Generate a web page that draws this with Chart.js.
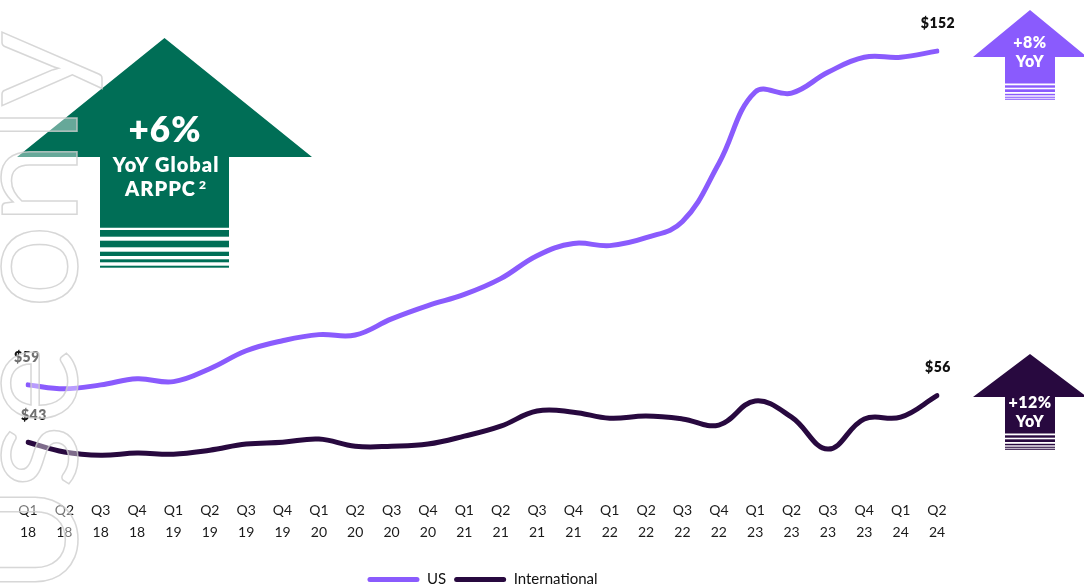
<!DOCTYPE html>
<html><head><meta charset="utf-8">
<script src="https://cdn.jsdelivr.net/npm/chart.js@4.4.1/dist/chart.umd.min.js"></script>
<style>html,body{margin:0;padding:0;background:#fff;overflow:hidden}#wrap{width:1084px;height:584px;position:relative}</style>
</head><body><div id="wrap"><canvas id="c" width="1084" height="584"></canvas></div>
<script>
const quarters = ['Q1','Q2','Q3','Q4','Q1','Q2','Q3','Q4','Q1','Q2','Q3','Q4','Q1','Q2','Q3','Q4','Q1','Q2','Q3','Q4','Q1','Q2','Q3','Q4','Q1','Q2'];
const years    = ['18','18','18','18','19','19','19','19','20','20','20','20','21','21','21','21','22','22','22','22','23','23','23','23','24','24'];
const usValues   = [59, 57.9, 59.0, 60.7, 59.9, 63.5, 68.5, 71.3, 73.0, 72.9, 77.4, 81.1, 84.2, 88.6, 95.0, 98.4, 97.8, 100.0, 104.5, 120.7, 140.6, 140.3, 146.1, 150.3, 150.3, 152];
const intlValues = [43, 40.3, 39.4, 40.0, 39.7, 40.8, 42.5, 43.0, 43.9, 41.9, 41.9, 42.5, 44.7, 47.5, 51.7, 51.4, 49.7, 50.3, 49.5, 47.8, 54.5, 50.0, 41.1, 49.5, 50.0, 56];
const seriesNames = ['US', 'International'];
const usYoY = ['+8%', 'YoY'];
const intlYoY = ['+12%', 'YoY'];
const globalYoY = ['+6%', 'YoY Global', 'ARPPC', '2'];
const watermarkText = 'Use only';

const US_COLOR = '#8a5bfd';
const INTL_COLOR = '#28093f';
const GREEN = '#006e56';
const FONT = 'Lato, "Open Sans", sans-serif';

const categories = quarters.map((q, i) => [q, years[i]]);

function drawArrow(ctx, a) {
  ctx.save();
  ctx.fillStyle = a.color;
  ctx.beginPath();
  ctx.moveTo(a.cx, a.tip);
  ctx.lineTo(a.cx + a.headHalf, a.headY);
  ctx.lineTo(a.cx + a.shaftHalf, a.headY);
  ctx.lineTo(a.cx + a.shaftHalf, a.solidBottom);
  ctx.lineTo(a.cx - a.shaftHalf, a.solidBottom);
  ctx.lineTo(a.cx - a.shaftHalf, a.headY);
  ctx.lineTo(a.cx - a.headHalf, a.headY);
  ctx.closePath();
  ctx.fill();
  a.stripes.forEach(s => ctx.fillRect(a.cx - a.shaftHalf, s[0], a.shaftHalf * 2, s[1] - s[0]));
  ctx.restore();
}

const decorPlugin = {
  id: 'decor',
  afterDatasetsDraw(chart) {
    const ctx = chart.ctx;
    drawArrow(ctx, {cx: 164.5, tip: 38, headY: 157, headHalf: 147.5, shaftHalf: 64.5, solidBottom: 227.7,
      stripes: [[230, 236.7], [240.7, 247.3], [251.7, 256], [259.3, 262.3], [265.7, 267.7]], color: GREEN});
    drawArrow(ctx, {cx: 1030, tip: 10, headY: 57, headHalf: 57, shaftHalf: 25, solidBottom: 83.5,
      stripes: [[85.3, 87.7], [89.3, 92], [93.8, 95.3], [96.7, 97.8], [98.7, 99.8]], color: US_COLOR});
    drawArrow(ctx, {cx: 1030, tip: 354, headY: 397, headHalf: 57, shaftHalf: 25, solidBottom: 433.5,
      stripes: [[435.3, 437.7], [439.3, 442], [443.8, 445.3], [446.7, 447.8], [448.7, 449.8]], color: INTL_COLOR});

    ctx.save();
    ctx.fillStyle = '#fff';
    ctx.textAlign = 'center';
    ctx.textBaseline = 'middle';
    ctx.letterSpacing = '1px';
    ctx.font = '800 35px ' + FONT;
    ctx.fillText(globalYoY[0], 165, 131);
    ctx.font = '800 20px ' + FONT;
    ctx.fillText(globalYoY[1], 166, 166);
    const w1 = ctx.measureText(globalYoY[2]).width;
    ctx.font = '800 12px ' + FONT;
    const w2 = ctx.measureText(globalYoY[3]).width;
    const start = 166 - (w1 + 3 + w2) / 2;
    ctx.textAlign = 'left';
    ctx.font = '800 20px ' + FONT;
    ctx.fillText(globalYoY[2], start, 190);
    ctx.font = '800 12px ' + FONT;
    ctx.fillText(globalYoY[3], start + w1 + 3, 185);

    ctx.textAlign = 'center';
    ctx.letterSpacing = '0.5px';
    ctx.font = '800 16px ' + FONT;
    ctx.fillText(usYoY[0], 1030, 43);
    ctx.fillText(usYoY[1], 1030, 62);
    ctx.fillText(intlYoY[0], 1030, 403);
    ctx.fillText(intlYoY[1], 1030, 422);
    ctx.restore();

    ctx.save();
    ctx.fillStyle = '#111';
    ctx.font = '800 14px ' + FONT;
    ctx.letterSpacing = '0.5px';
    ctx.textBaseline = 'middle';
    const offs = [[-14, -7], [-7, -7]];
    chart.data.datasets.forEach((ds, i) => {
      const pts = chart.getDatasetMeta(i).data;
      const first = pts[0], last = pts[pts.length - 1];
      ctx.textAlign = 'left';
      ctx.fillText('$' + Math.round(ds.data[0]), first.x + offs[i][0], first.y - 27);
      ctx.textAlign = 'center';
      ctx.fillText('$' + Math.round(ds.data[ds.data.length - 1]), last.x + 1, last.y - 28);
    });
    ctx.restore();
  },
  afterDraw(chart) {
    const ctx = chart.ctx;
    ctx.save();
    ctx.translate(77, 594);
    ctx.rotate(-Math.PI / 2);
    ctx.font = '400 148px ' + FONT;
    ctx.textAlign = 'left';
    ctx.textBaseline = 'alphabetic';
    ctx.fillStyle = 'rgba(255,255,255,0.4)';
    ctx.fillText(watermarkText, 0, 0);
    ctx.strokeStyle = 'rgba(205,205,205,0.8)';
    ctx.lineWidth = 1.5;
    ctx.strokeText(watermarkText, 0, 0);
    ctx.restore();
  }
};

new Chart(document.getElementById('c'), {
  type: 'line',
  data: {
    labels: categories,
    datasets: [
      {label: seriesNames[0], data: usValues, borderColor: US_COLOR, backgroundColor: US_COLOR, borderWidth: 5, tension: 0.4, pointRadius: 0, borderCapStyle: 'round', borderJoinStyle: 'round'},
      {label: seriesNames[1], data: intlValues, borderColor: INTL_COLOR, backgroundColor: INTL_COLOR, borderWidth: 5, tension: 0.4, pointRadius: 0, borderCapStyle: 'round', borderJoinStyle: 'round'}
    ]
  },
  options: {
    responsive: false,
    animation: false,
    devicePixelRatio: 1,
    layout: {padding: {left: 28, right: 147, top: 40, bottom: -13}},
    scales: {
      x: {
        grid: {display: false}, border: {display: false},
        ticks: {color: '#1a1a1a', font: {family: FONT, size: 14, lineHeight: 1.55}, padding: 21, autoSkip: false, maxRotation: 0},
        afterFit(scale) { scale.height = 93; scale.paddingLeft = 0; scale.paddingRight = 0; }
      },
      y: {display: false, min: 35, max: 155.1}
    },
    plugins: {
      legend: {
        position: 'bottom', fullSize: false,
        labels: {
          color: '#111', font: {family: FONT, size: 15}, boxWidth: 52, boxHeight: 5, padding: 8,
          useBorderRadius: true, borderRadius: 2.5,
          generateLabels(chart) {
            return Chart.defaults.plugins.legend.labels.generateLabels(chart).map(l => Object.assign(l, {lineWidth: 0, fillStyle: chart.data.datasets[l.datasetIndex].borderColor}));
          }
        }
      },
      tooltip: {enabled: false}
    }
  },
  plugins: [decorPlugin]
});
</script></body></html>
